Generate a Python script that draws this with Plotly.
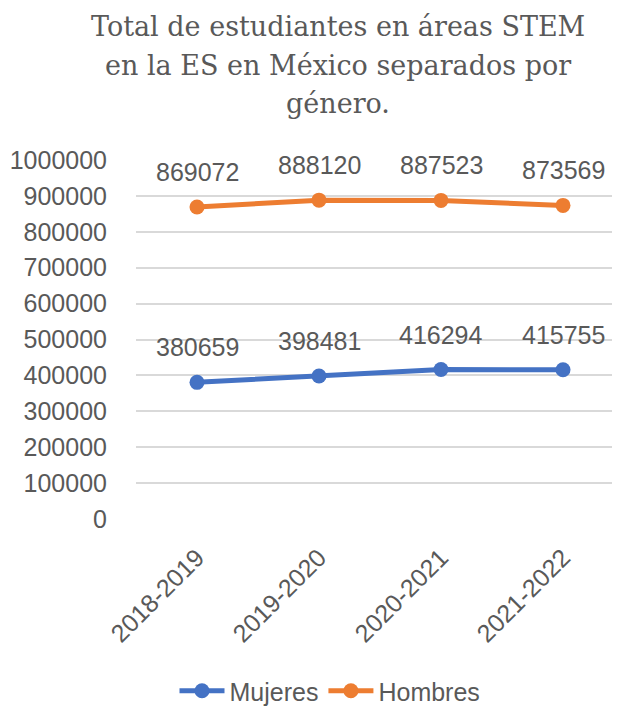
import plotly.graph_objects as go

categories = ["2018-2019", "2019-2020", "2020-2021", "2021-2022"]
mujeres = [380659, 398481, 416294, 415755]
hombres = [869072, 888120, 887523, 873569]
y_ticks = [0, 100000, 200000, 300000, 400000, 500000, 600000, 700000, 800000, 900000, 1000000]
title_lines = ["Total de estudiantes en áreas STEM",
               "en la ES en México separados por",
               "género."]

BLUE = "#4472C4"
ORANGE = "#ED7D31"
GRAY = "#595959"
SANS = "Liberation Sans"

# page body has an 8px margin: figure coords = screen coords - 8
W, H = 612, 700
L, T = 128, 152
B = H - (519 - 8)
PH = H - T - B  # plot height in px


def py(screen_y):
    return (H - B - (screen_y - 8)) / PH


def px(screen_x):
    return ((screen_x - 8) - L) / (W - L)


fig = go.Figure()
for name, vals, col in [("Mujeres", mujeres, BLUE), ("Hombres", hombres, ORANGE)]:
    fig.add_trace(go.Scatter(
        x=categories, y=vals, name=name, mode="lines+markers",
        line=dict(color=col, width=5),
        marker=dict(color=col, size=15),
    ))
    for c, v in zip(categories, vals):
        fig.add_annotation(x=c, y=v, text=str(v), showarrow=False,
                           yshift=35, font=dict(family=SANS, size=25, color=GRAY))

for line, sy in zip(title_lines, [26, 66, 104]):
    fig.add_annotation(xref="paper", yref="paper", x=px(338), y=py(sy),
                       xanchor="center", yanchor="middle", text=line, showarrow=False,
                       font=dict(family="DejaVu Serif", size=27, color=GRAY))

fig.update_layout(
    width=W, height=H,
    margin=dict(l=L, r=0, t=T, b=B),
    paper_bgcolor="white", plot_bgcolor="white",
    showlegend=True,
    legend=dict(orientation="h", xref="container", yref="container",
                x=(330 - 8) / W, xanchor="center",
                y=1 - (691 - 8) / H, yanchor="middle",
                font=dict(family=SANS, size=25, color=GRAY),
                itemwidth=45, tracegroupgap=0),
)
fig.update_xaxes(
    type="category", range=[-0.5, -0.5 + (W - L) / 122], showgrid=False, showline=False,
    tickangle=-45, tickfont=dict(family=SANS, size=25, color=GRAY),
    ticks="", automargin=False, ticklabelstandoff=18,
)
fig.update_yaxes(
    range=[0, 1000000], tickvals=y_ticks, ticktext=[str(t) for t in y_ticks],
    showgrid=True, gridcolor="#D9D9D9", gridwidth=1.5, zeroline=False, showline=False,
    tickfont=dict(family=SANS, size=25, color=GRAY), ticklabelstandoff=28,
    automargin=False,
)
fig.write_html("out.html")
